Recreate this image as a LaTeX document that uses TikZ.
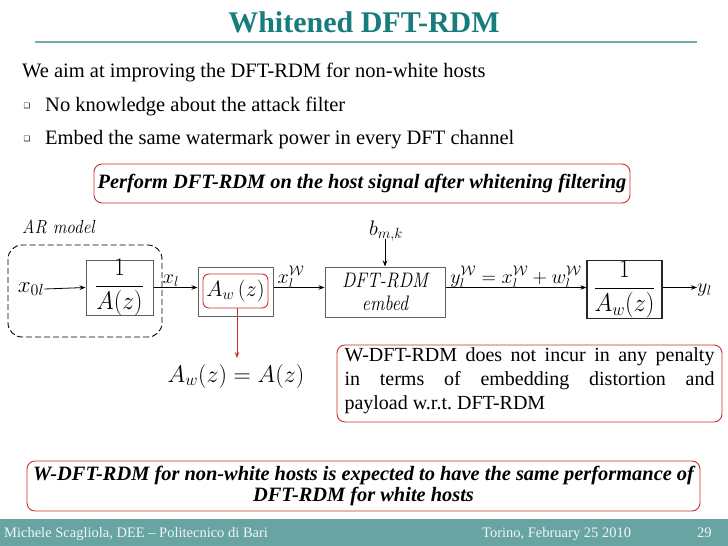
\RequirePackage{fix-cm}
\documentclass[tikz,border=0pt]{standalone}
\usepackage{fontspec}
\usepackage{amsmath}
\usepackage{graphicx}
\newfontfamily\tnr{Liberation Serif}
\newfontfamily\dv{DejaVu Sans}
\usetikzlibrary{arrows.meta}
\definecolor{titlecol}{RGB}{22,124,124}
\definecolor{rulecol}{RGB}{115,172,172}
\definecolor{footcol}{RGB}{104,164,161}
\definecolor{foottext}{RGB}{240,246,246}
\definecolor{redbox}{RGB}{196,48,48}
\definecolor{graybox}{RGB}{95,95,95}
\tikzset{
  titletext/.style={font=\tnr\bfseries\fontsize{30}{34}\selectfont, text=titlecol, anchor=base, inner sep=0},
  body/.style={font=\tnr\fontsize{20.5}{24}\selectfont, anchor=base west, inner sep=0},
  bul/.style={font=\dv\fontsize{7.5}{8}\selectfont, inner sep=0},
  rbox/.style={draw=redbox, line width=0.9pt, rounded corners=8pt, inner sep=0},
  emph/.style={font=\tnr\bfseries\itshape\fontsize{20.4}{23}\selectfont},
  blk/.style={draw=graybox, line width=1pt, inner sep=0, fill=white},
  mlab/.style={font=\fontsize{20}{24}\selectfont, inner sep=0},
  mfrac/.style={font=\fontsize{25.5}{30}\selectfont, inner sep=0},
  itlab/.style={font=\itshape\fontsize{19}{23}\selectfont, inner sep=0},
  arr/.style={-{Stealth[length=6pt,width=4.5pt]}, line width=0.8pt},
  redarr/.style={-{Stealth[length=6pt,width=4.5pt]}, line width=0.9pt, draw=redbox},
  foot/.style={font=\tnr\fontsize{14.5}{16}\selectfont, text=foottext, anchor=base west, inner sep=0}
}
\begin{document}
\begin{tikzpicture}[x=1pt,y=-1pt]
\useasboundingbox (0,0) rectangle (728,546);
\fill[white] (0,0) rectangle (728,546);

% title
\node[titletext] (title) at (364,32) {Whitened DFT-RDM};
\draw[rulecol, line width=1.5pt] (35,42) -- (697,42);

% bullets
\node[body] (l1) at (22,77) {We aim at improving the DFT-RDM for non-white hosts};
\node[bul] (b1) at (27,106) {❑};
\node[body] (l2) at (45,111) {No knowledge about the attack filter};
\node[bul] (b2) at (27,139) {❑};
\node[body] (l3) at (45,144) {Embed the same watermark power in every DFT channel};

% perform box
\node[rbox, emph, minimum width=536pt, minimum height=39pt] (perf) at (362,183.5)
  {Perform DFT-RDM on the host signal after whitening filtering};

% diagram
\node[itlab, anchor=base west] (ar) at (22,233) {\scalebox{0.9}[1]{AR model}};
\draw[dashed, line width=0.9pt, rounded corners=14pt, dash pattern=on 6pt off 3pt] (8,245) rectangle (162,337);

\node[blk, minimum width=67pt, minimum height=55pt] (A) at (119.5,287.5) {};
\node[mfrac] at (A.center) {\scalebox{0.93}[1]{$\dfrac{1}{A(z)}$}};
\node[font=\fontsize{23}{27}\selectfont, inner sep=0] (x0) at (31,289) {$x_{0l}$};
\draw[arr] (x0.east) -- (A.west);

\node[blk, minimum width=75pt, minimum height=49pt] (Aw) at (235.5,291.5) {};
\node[draw=redbox, line width=0.9pt, rounded corners=6pt, minimum width=65pt, minimum height=34pt, inner sep=0, font=\fontsize{22}{26}\selectfont] (inner) at (235.5,291) {$A_w\,(z)$};
\draw[arr] (A.east) -- (Aw.west |- A.east);
\node[mlab, anchor=base] (xl) at (171,283) {$x_l$};

\node[blk, minimum width=120pt, minimum height=50pt, align=center, font=\itshape\fontsize{21}{23}\selectfont] (dft) at (385,292)
  {\scalebox{0.86}[1]{DFT-RDM}\\\scalebox{0.86}[1]{embed}};
\draw[arr] (Aw.east |- A.east) -- (dft.west |- A.east);
\node[mlab, anchor=base] (xw) at (291,283) {$x_l^{\mathcal{W}}$};

\node[font=\fontsize{21}{24}\selectfont, inner sep=0] (bmk) at (386,231) {$b_{m,k}$};
\draw[arr] ([yshift=2pt]bmk.south -| dft.north) -- (dft.north);

\node[draw=black!85, line width=1.2pt, minimum width=75pt, minimum height=47pt, inner sep=0, mfrac] (B) at (624.5,289.5) {\scalebox{0.95}[1]{$\dfrac{1}{A_w(z)}$}};
\draw[arr] (dft.east |- A.east) -- (B.west |- A.east);
\node[mlab, anchor=base] (yw) at (516,283) {$y_l^{\mathcal{W}} = x_l^{\mathcal{W}} + w_l^{\mathcal{W}}$};

\node[mlab, anchor=west] (yl) at (697,290) {$y_l$};
\draw[arr] (B.east |- A.east) -- (yl.west |- A.east);

% equation
\node[font=\fontsize{24}{28}\selectfont, inner sep=0] (eq) at (236,376) {$A_w(z) = A(z)$};
\draw[redarr] ([xshift=1.5pt]inner.south) -- ([xshift=1.5pt]inner.south |- 0,358);

% right box
\node[rbox, minimum width=385pt, minimum height=77pt] (wbox) at (529.5,383.5) {};
\node[font=\tnr\fontsize{20}{24}\selectfont, text width=370pt, align=left, inner sep=0] (wtext) at ([yshift=3pt]wbox.center)
  {\spaceskip=0pt\xspaceskip=0pt
   \makebox[370pt][s]{W-DFT-RDM does not incur in any penalty}\\
   \makebox[370pt][s]{in terms of embedding distortion and}\\
   payload w.r.t.\ DFT-RDM};

% bottom box
\node[rbox, emph, minimum width=673pt, minimum height=50pt, align=center] (concl) at (363.5,486)
  {W-DFT-RDM for non-white hosts is expected to have the same performance of\\[-2pt]
   DFT-RDM for white hosts};

% footer
\fill[footcol] (0,519) rectangle (728,546);
\node[foot] (f1) at (4,537) {Michele Scagliola, DEE – Politecnico di Bari};
\node[foot] (f2) at (482,537) {Torino, February 25 2010};
\node[foot] (f3) at (697,537) {29};
\end{tikzpicture}
\end{document}
